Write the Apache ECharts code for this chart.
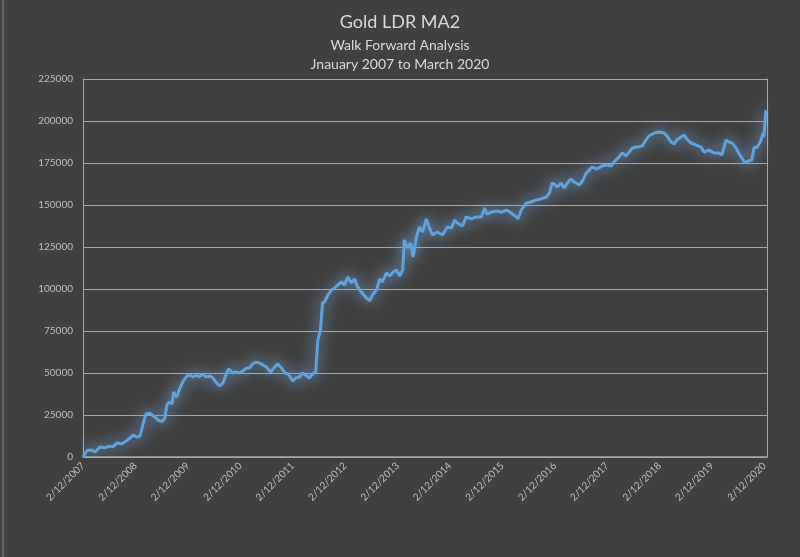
<!DOCTYPE html>
<html>
<head>
<meta charset="utf-8">
<script src="https://cdn.jsdelivr.net/npm/echarts@6/dist/echarts.min.js"></script>
<style>
html,body{margin:0;padding:0;background:#404040;}
#chart{width:800px;height:557px;}
</style>
</head>
<body>
<div id="chart"></div>
<script>
const titleText = "Gold LDR MA2";
const subtitle1 = "Walk Forward Analysis";
const subtitle2 = "Jnauary 2007 to March 2020";
const yTicks = [0,25000,50000,75000,100000,125000,150000,175000,200000,225000];
const tickYears = [2007,2008,2009,2010,2011,2012,2013,2014,2015,2016,2017,2018,2019,2020];
const dates = [
2007.00,2007.02,2007.08,2007.17,2007.23,2007.32,2007.42,2007.51,2007.57,2007.65,2007.74,2007.80,2007.90,2007.95,
2008.03,2008.09,2008.14,2008.20,2008.28,2008.37,2008.43,2008.50,2008.56,2008.60,2008.64,2008.70,2008.73,2008.79,2008.85,2008.90,2008.98,
2009.04,2009.10,2009.17,2009.21,2009.29,2009.34,2009.42,2009.48,2009.55,2009.61,2009.67,2009.74,2009.78,2009.86,2009.91,2009.99,
2010.05,2010.12,2010.18,2010.24,2010.31,2010.37,2010.43,2010.50,2010.58,2010.66,2010.71,2010.79,2010.85,2010.92,
2011.00,2011.06,2011.13,2011.19,2011.27,2011.32,2011.38,2011.44,2011.48,2011.53,2011.57,2011.61,2011.67,2011.74,2011.80,2011.86,2011.93,2011.99,
2012.05,2012.12,2012.18,2012.24,2012.31,2012.39,2012.47,2012.52,2012.60,2012.66,2012.71,2012.79,2012.85,2012.92,2012.98,
2013.04,2013.10,2013.13,2013.19,2013.25,2013.30,2013.36,2013.42,2013.48,2013.55,2013.61,2013.67,2013.76,2013.86,2013.95,
2014.03,2014.09,2014.14,2014.24,2014.31,2014.41,2014.50,2014.60,2014.66,2014.71,2014.79,2014.89,2014.98,
2015.08,2015.17,2015.27,2015.30,2015.36,2015.46,2015.55,2015.65,2015.74,2015.84,2015.90,2015.95,2015.99,
2016.05,2016.12,2016.18,2016.24,2016.31,2016.37,2016.47,2016.54,2016.60,2016.66,2016.71,2016.81,2016.90,
2017.00,2017.08,2017.13,2017.23,2017.29,2017.36,2017.42,2017.48,2017.57,2017.67,2017.74,2017.80,2017.90,2017.99,
2018.09,2018.14,2018.22,2018.28,2018.33,2018.41,2018.47,2018.52,2018.60,2018.70,2018.79,2018.85,2018.94,
2019.04,2019.13,2019.19,2019.27,2019.32,2019.38,2019.46,2019.51,2019.57,2019.63,2019.69,2019.76,2019.80,2019.86,2019.91,2019.95,2019.97,2019.99,2020.03
];
const equity = [
0,1000,4000,4000,3000,6000,5500,6500,6000,8300,7700,9000,11300,13000,
11900,12500,19000,25600,26000,23800,22000,21000,23000,31000,32700,31500,38700,35700,41000,44600,48200,
48800,47600,48800,47600,49400,47600,48200,47000,44000,42300,44000,50000,52400,50000,50600,50000,
51200,53000,53000,55500,56500,55900,54800,53600,50600,53600,55400,53000,50000,49400,
45200,47000,47600,50000,48200,47000,49400,50600,69600,75600,91700,92300,96400,99400,100600,102400,104200,102400,
107100,103600,106000,101200,98200,95200,92900,96400,99400,106000,104200,109500,107700,110100,111300,
107700,111300,129200,124400,127400,119000,131000,136900,133900,141700,136300,132100,133900,132100,136900,
136300,141100,139300,137500,142900,141700,142900,142900,148200,144600,145800,146400,145800,
147000,145200,142900,141700,147000,151200,151800,153000,153600,154800,157100,163100,162500,
160700,163100,160100,163100,165500,163700,161900,164900,169000,170800,172600,171400,173200,
173800,173200,175600,178600,181000,179200,181500,183900,184500,185100,188700,191100,192900,193500,
192900,191100,187500,186300,188700,190500,191700,189300,186900,185700,184500,181500,182700,
181000,181000,179800,188700,187500,187000,183900,181000,178000,175000,176200,176800,183900,184500,186900,189900,192900,190500,206500
];

const chart = echarts.init(document.getElementById('chart'), null, {renderer:'canvas'});
const fontFam = 'Lato, "Open Sans", sans-serif';
const axisColor = '#a6a6a6';
chart.setOption({
  backgroundColor: '#404040',
  animation: false,
  title: [
    {text: titleText, left: 'center', top: 8, textStyle: {color:'#d9d9d9', fontSize:18, fontWeight:'normal', fontFamily: fontFam}},
    {text: subtitle1, left: 'center', top: 33, textStyle: {color:'#d9d9d9', fontSize:14, fontWeight:'normal', fontFamily: fontFam}},
    {text: subtitle2, left: 'center', top: 52, textStyle: {color:'#d9d9d9', fontSize:14, fontWeight:'normal', fontFamily: fontFam}}
  ],
  grid: {left: 83, right: 33, top: 79, bottom: 100},
  xAxis: {
    type: 'value', min: tickYears[0], max: 2020.05, interval: 1,
    axisLine: {show: true, lineStyle: {color: axisColor, width: 1.5}},
    axisTick: {show: false},
    splitLine: {show: false},
    axisLabel: {
      rotate: 45, showMaxLabel: false, margin: 7,
      color: '#bfbfbf', fontSize: 10, fontFamily: fontFam,
      formatter: v => tickYears.indexOf(Math.round(v)) >= 0 ? '2/12/' + Math.round(v) : ''
    }
  },
  yAxis: [{
    type: 'value', min: yTicks[0], max: yTicks[yTicks.length-1], interval: yTicks[1]-yTicks[0],
    axisLine: {show: true, lineStyle: {color: axisColor, width: 1}},
    axisTick: {show: false},
    splitLine: {show: true, lineStyle: {color: axisColor, width: 1}},
    axisLabel: {color: '#bfbfbf', fontSize: 10, fontFamily: fontFam, margin: 10, formatter: v => String(v)}
  },{
    type: 'value', position: 'right', min: yTicks[0], max: yTicks[yTicks.length-1], interval: yTicks[1]-yTicks[0],
    axisLine: {show: true, lineStyle: {color: axisColor, width: 1}},
    axisTick: {show: false}, axisLabel: {show: false}, splitLine: {show: false}
  }],
  series: [{
    type: 'line',
    data: dates.map((d,i) => [d, equity[i]]),
    showSymbol: false,
    smooth: false,
    lineStyle: {color: '#5ea2e0', width: 3, shadowColor: 'rgba(130,190,250,1)', shadowBlur: 14},
    itemStyle: {color: '#5ea2e0'}
  }],
  graphic: [{
    type: 'line', shape: {x1: 3, y1: 0, x2: 3, y2: 557},
    style: {stroke: '#8a8a8a', lineWidth: 1}
  }]
});
</script>
</body>
</html>
